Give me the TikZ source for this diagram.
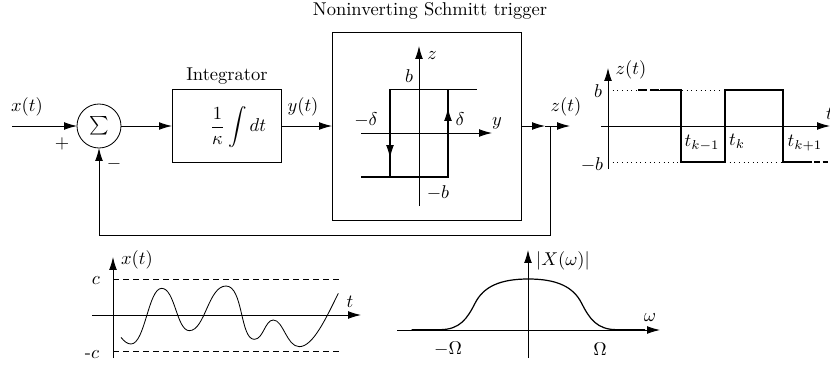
\documentclass[tikz,border=0pt]{standalone}
\usetikzlibrary{arrows.meta}
\tikzset{
  line/.style={line width=0.45pt},
  arr/.style={line, -{Latex[length=7pt,width=4.2pt]}},
  sig/.style={line width=0.65pt, line join=miter},
  box/.style={draw, line width=0.45pt, inner sep=0pt, outer sep=0pt},
  lbl/.style={inner sep=0pt, outer sep=0pt},
  dotline/.style={line width=0.5pt, dotted},
  dashline/.style={line width=0.45pt, dash pattern=on 3pt off 2.4pt}
}
\begin{document}
\begin{tikzpicture}[x=0.54pt,y=-0.54pt]
\useasboundingbox (0,0) rectangle (830,366);
% block diagram
\coordinate (in) at (12,126);
\node[box, circle, minimum size=23.76pt] (sum) at (99,126) {$\textstyle\sum$};
\node[box, minimum width=58.9pt, minimum height=39.4pt] (integ) at (226.5,126) {};
\node[lbl] (integF) at (238,127) {$\displaystyle\frac{1}{\kappa}\int dt$};
\node[box, minimum width=102pt, minimum height=101.5pt] (trig) at (426.5,126) {};
\coordinate (tap1) at (545,126);
\coordinate (tap) at (550,126);
\coordinate (out) at (570,126);
\coordinate (fb) at (99,235);
\draw[arr] (in) -- (sum);
\draw[arr] (sum) -- (integ);
\draw[arr] (integ) -- (trig);
\draw[arr] (trig) -- (tap1);
\draw[arr] (tap1) -- (out);
\draw[line] (tap) |- (fb);
\draw[arr] (fb) -- (sum);
\node[lbl] (lx) at (27,107) {$x(t)$};
\node[lbl] (lplus) at (62,144) {$+$};
\node[lbl] (lminus) at (114,164) {$-$};
\node[lbl] (lint) at (227,76) {Integrator};
\node[lbl] (ly) at (303,107) {$y(t)$};
\node[lbl] (ltitle) at (430,11) {Noninverting Schmitt trigger};
\node[lbl] (lz) at (566,107) {$z(t)$};
% hysteresis
\coordinate (za) at (419,206); \coordinate (zb) at (419,46);
\coordinate (ya) at (361,133); \coordinate (yb) at (492,133);
\draw[arr] (za) -- (zb);
\draw[arr] (ya) -- (yb);
\coordinate (h1) at (361,177); \coordinate (h2) at (448,177);
\coordinate (h3) at (448,89.5); \coordinate (h4) at (477,89.5);
\coordinate (h5) at (390,89.5); \coordinate (h6) at (390,177);
\draw[sig] (h1) -- (h2) -- (h3) -- (h4);
\draw[sig] (h3) -- (h5) -- (h6);
\coordinate (up1) at (448,133); \coordinate (up2) at (448,108);
\coordinate (dn1) at (390,133); \coordinate (dn2) at (390,158);
\draw[arr] (up1) -- (up2);
\draw[arr] (dn1) -- (dn2);
\node[lbl] (lb) at (409,76) {$b$};
\node[lbl] (lzz) at (432,56) {$z$};
\node[lbl] (ld1) at (366,120) {$-\delta$};
\node[lbl] (ld2) at (460,119) {$\delta$};
\node[lbl] (lyy) at (497,123) {$y$};
\node[lbl] (lmb) at (438,193) {$-b$};
% z(t) plot
\coordinate (a1) at (608,169); \coordinate (a2) at (608,68);
\coordinate (t1) at (601,126); \coordinate (t2) at (830,126);
\draw[arr] (a1) -- (a2);
\draw[arr] (t1) -- (t2);
\draw[dotline] (608,90) -- (725,90);
\draw[dotline] (608,162) -- (681,162);
\draw[dotline] (725,162) -- (783,162);
\draw[sig, dash pattern=on 5pt off 1.5pt] (638,90) -- (660,90);
\draw[sig] (660,90) -- (681,90) -- (681,162) -- (725,162) -- (725,90) -- (783,90) -- (783,162) -- (806,162);
\draw[sig, dash pattern=on 3pt off 1.5pt] (806,162) -- (830,162);
\node[lbl] (l1) at (631,70) {$z(t)$};
\node[lbl] (l2) at (598,91) {$b$};
\node[lbl] (l3) at (592,165) {$-b$};
\node[lbl] (l4) at (702,143) {$t_{k-1}$};
\node[lbl] (l5) at (737,141) {$t_k$};
\node[lbl] (l6) at (805,143) {$t_{k+1}$};
\node[lbl,anchor=west] (l7) at (826,114) {$t$};
% x(t) plot
\coordinate (b1) at (113,358); \coordinate (b2) at (113,257);
\coordinate (c1) at (92,315); \coordinate (c2) at (361,315);
\draw[arr] (b1) -- (b2);
\draw[arr] (c1) -- (c2);
\draw[dashline] (113,279) -- (341,279);
\draw[dashline] (113,351) -- (341,351);
\begin{scope}[shift={(60,240)},x=0.18pt,y=-0.18pt]
\draw[line] (183,292) .. controls (193,305) and (203,312) .. (213,312) .. controls (255,312) and (265,145) .. (305,145) .. controls (345,145) and (350,272) .. (388,272) .. controls (435,272) and (445,138) .. (498,138) .. controls (550,138) and (540,298) .. (583,298) .. controls (610,298) and (615,240) .. (640,240) .. controls (670,240) and (680,320) .. (718,320) .. controls (760,320) and (800,230) .. (835,160);
\end{scope}
\node[lbl] (m1) at (137,260) {$x(t)$};
\node[lbl] (m2) at (96,281) {$c$};
\node[lbl] (m3) at (92,355) {-$c$};
\node[lbl] (m4) at (350,302) {$t$};
% spectrum
\coordinate (d1) at (528,358); \coordinate (d2) at (528,250);
\coordinate (e1) at (397,330); \coordinate (e2) at (660,330);
\draw[arr] (d1) -- (d2);
\draw[arr] (e1) -- (e2);
\begin{scope}[shift={(380,240)},x=0.18pt,y=-0.18pt]
\draw[sig] (95,269) -- (180,269) .. controls (240,269) and (262,235) .. (285,190) .. controls (310,140) and (360,117) .. (445,117) .. controls (530,117) and (580,140) .. (605,190) .. controls (628,235) and (650,269) .. (710,269) -- (795,269);
\end{scope}
\node[lbl] (n1) at (563,261) {$|X(\omega)|$};
\node[lbl] (n2) at (650,318) {$\omega$};
\node[lbl] (n3) at (448,349) {$-\Omega$};
\node[lbl] (n4) at (600,349) {$\Omega$};
\end{tikzpicture}
\end{document}
